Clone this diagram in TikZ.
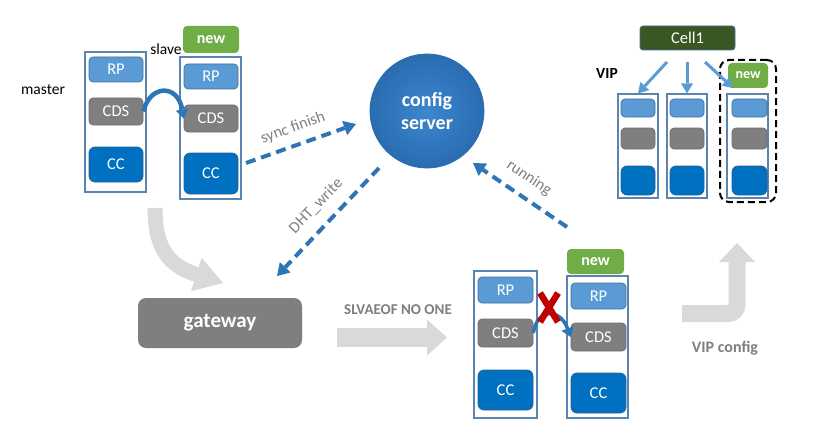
\documentclass[tikz,border=0pt]{standalone}
\usepackage{fontspec}
\setmainfont{Carlito}
\usetikzlibrary{arrows.meta}
\definecolor{rpc}{HTML}{5B9BD5}
\definecolor{rpd}{HTML}{41719C}
\definecolor{cdsc}{HTML}{7F7F7F}
\definecolor{cdsd}{HTML}{6F6F6F}
\definecolor{ccc}{HTML}{0070C0}
\definecolor{ccd}{HTML}{215F9A}
\definecolor{boxc}{HTML}{5B84B1}
\definecolor{newc}{HTML}{70AD47}
\definecolor{dblue}{HTML}{2E75B6}
\definecolor{cellc}{HTML}{385723}
\definecolor{lgray}{HTML}{7F7F7F}
\definecolor{bgray}{HTML}{D9D9D9}
\definecolor{redx}{HTML}{C00000}
\definecolor{cfgin}{HTML}{3C87CF}
\definecolor{cfgout}{HTML}{2A6CB0}
\tikzset{
  colbox/.style={draw=boxc, line width=1.2pt, fill=white, inner sep=0pt},
  rpbox/.style={fill=rpc, draw=rpd, line width=0.7pt, rounded corners=4pt, inner sep=0pt, text=white, font=\fontsize{16.5}{19}\selectfont},
  cdsbox/.style={fill=cdsc, draw=cdsd, line width=0.7pt, rounded corners=4pt, inner sep=0pt, text=white, font=\fontsize{16.5}{19}\selectfont},
  ccbox/.style={fill=ccc, draw=ccd, line width=0.7pt, rounded corners=6pt, inner sep=0pt, text=white, font=\fontsize{16.5}{19}\selectfont},
  newbox/.style={fill=newc, rounded corners=4pt, inner sep=0pt, text=white, font=\bfseries\fontsize{16}{19}\selectfont},
  dasharrow/.style={draw=dblue, line width=4pt, dash pattern=on 10pt off 6pt, -{Triangle[width=15pt,length=12pt,line width=0pt]}},
  curvearrow/.style={draw=dblue, line width=4.5pt, -{Triangle[width=13pt,length=9pt,line width=0pt]}},
  cellarrow/.style={draw=rpc, line width=3pt, -{Triangle[width=12pt,length=10pt,line width=0pt]}},
  lbl/.style={text=lgray, inner sep=0pt, font=\fontsize{16}{19}\selectfont},
  blbl/.style={text=lgray, inner sep=0pt, font=\bfseries\fontsize{15}{18}\selectfont},
  plain/.style={text=black, inner sep=0pt, font=\fontsize{15.5}{18}\selectfont},
}
\begin{document}
\begin{tikzpicture}[x=1pt,y=-1pt]
\useasboundingbox[fill=white] (0,0) rectangle (818,433);

% ---------- master / slave ----------
\node[plain] (tmaster) at (43,90) {master};
\node[plain] (tslave) at (166,49) {slave};

\node[colbox, minimum width=61pt, minimum height=140pt] (mbox) at (115.5,122) {};
\node[rpbox, minimum width=54pt, minimum height=25pt] (mrp) at (116,69.5) {RP};
\node[cdsbox, minimum width=54pt, minimum height=27pt] (mcds) at (116,111.5) {CDS};
\node[ccbox, minimum width=54pt, minimum height=35pt] (mcc) at (116,164.5) {CC};

\node[colbox, minimum width=61pt, minimum height=142pt] (sbox) at (210.5,128) {};
\node[newbox, minimum width=56pt, minimum height=27pt] (snew) at (211,39.5) {new};
\node[rpbox, minimum width=54pt, minimum height=25pt] (srp) at (211,76.5) {RP};
\node[cdsbox, minimum width=54pt, minimum height=27pt] (scds) at (211,118.5) {CDS};
\node[ccbox, minimum width=54pt, minimum height=41pt] (scc) at (211,173.5) {CC};

\draw[curvearrow] (mcds.east) .. controls (150,84) and (178,84) .. (scds.west);

% ---------- config server ----------
\node[circle, draw=cfgout, line width=0.8pt, inner color=cfgin, outer color=cfgout, minimum size=114pt, inner sep=0pt,
      text=white, align=center, font=\bfseries\fontsize{20}{23}\selectfont] (cfg) at (427,111) {config\\server};

\coordinate (sync0) at (246,163);
\coordinate (sync1) at (356,124);
\draw[dasharrow] (sync0) -- (sync1);
\node[lbl, rotate=20] (tsync) at (293,128) {sync finish};

\coordinate (dht0) at (379,168);
\coordinate (dht1) at (277,276);
\draw[dasharrow] (dht0) -- (dht1);
\node[lbl, rotate=46] (tdht) at (316,206) {DHT\_write};

\coordinate (run0) at (567,227);
\coordinate (run1) at (473,163);
\draw[dasharrow] (run0) -- (run1);
\node[lbl, rotate=-34] (trun) at (529,178) {running};

% ---------- gateway ----------
\coordinate (g0) at (155,208);
\coordinate (g1) at (223,283);
\draw[bgray, line width=15pt, -{Triangle[width=35pt,length=28pt,line width=0pt]}] (g0) .. controls (155,250) and (170,266) .. (g1);

\node[fill=cdsc, rounded corners=8pt, minimum width=164pt, minimum height=50pt, inner sep=0pt,
      text=white, font=\bfseries\fontsize{21}{25}\selectfont] (gw) at (220,323) {gateway};

\coordinate (s0) at (337,337.5);
\coordinate (s1) at (447,337.5);
\draw[bgray, line width=19pt, -{Triangle[width=36pt,length=20pt,line width=0pt]}] (s0) -- (s1);
\node[blbl] (tslv) at (398,310) {SLVAEOF NO ONE};

% ---------- bottom columns ----------
\node[colbox, minimum width=63pt, minimum height=147pt] (b1box) at (505.5,344.5) {};
\node[rpbox, minimum width=55pt, minimum height=26pt] (b1rp) at (505.5,290) {RP};
\node[cdsbox, minimum width=55pt, minimum height=28pt] (b1cds) at (505.5,333) {CDS};
\node[ccbox, minimum width=55pt, minimum height=40pt] (b1cc) at (505.5,390) {CC};

\node[colbox, minimum width=61pt, minimum height=142pt] (b2box) at (597.5,347) {};
\node[newbox, minimum width=57pt, minimum height=25pt] (b2new) at (595.5,261.5) {new};
\node[rpbox, minimum width=55pt, minimum height=26pt] (b2rp) at (598.5,296) {RP};
\node[cdsbox, minimum width=55pt, minimum height=28pt] (b2cds) at (598.5,337) {CDS};
\node[ccbox, minimum width=55pt, minimum height=40pt] (b2cc) at (598.5,393) {CC};

\draw[curvearrow, line width=3.5pt] (b1cds.east) .. controls (537,308) and (560,308) .. (b2cds.west);
\draw[redx, line width=6.5pt] (540,293) -- (558,322);
\draw[redx, line width=6.5pt] (558,293) -- (540,322);

% ---------- VIP config ----------
\coordinate (vc0) at (682,313.5);
\coordinate (vc1) at (737,243);
\draw[bgray, line width=17pt, rounded corners=9pt, -{Triangle[width=36pt,length=19pt,line width=0pt]}] (vc0) -| (vc1);
\node[blbl, font=\bfseries\fontsize{16}{19}\selectfont] (tvip) at (725,348) {VIP config};

% ---------- Cell1 ----------
\node[fill=cellc, draw=rpd, line width=0.8pt, rounded corners=3pt, minimum width=95pt, minimum height=24pt, inner sep=0pt,
      text=white, font=\fontsize{16.5}{19}\selectfont] (cell) at (687.5,38) {Cell1};
\node[plain, font=\bfseries\fontsize{15.5}{18}\selectfont] (tvip2) at (607,73) {VIP};

\node[colbox, minimum width=40pt, minimum height=104pt] (v1) at (638,146) {};
\node[rpbox, minimum width=34pt, minimum height=18pt] (v1a) at (638,108) {};
\node[cdsbox, minimum width=34pt, minimum height=21pt] (v1b) at (638,138.5) {};
\node[ccbox, minimum width=34pt, minimum height=29pt] (v1c) at (638,180.5) {};

\node[colbox, minimum width=40pt, minimum height=104pt] (v2) at (687,146) {};
\node[rpbox, minimum width=34pt, minimum height=18pt] (v2a) at (687,108) {};
\node[cdsbox, minimum width=34pt, minimum height=21pt] (v2b) at (687,138.5) {};
\node[ccbox, minimum width=34pt, minimum height=29pt] (v2c) at (687,180.5) {};

\node[draw=black, line width=2pt, dash pattern=on 7pt off 4pt, rounded corners=9pt, minimum width=56pt, minimum height=142pt, inner sep=0pt] (dbox) at (748,131) {};
\node[colbox, minimum width=41pt, minimum height=104pt] (v3) at (747.5,146) {};
\node[rpbox, minimum width=35pt, minimum height=18pt] (v3a) at (749.5,108) {};
\node[cdsbox, minimum width=35pt, minimum height=21pt] (v3b) at (749.5,138.5) {};
\node[ccbox, minimum width=35pt, minimum height=29pt] (v3c) at (749.5,180.5) {};
\node[newbox, minimum width=40pt, minimum height=25pt, font=\bfseries\fontsize{14}{17}\selectfont] (v3new) at (748,75.5) {new};

\coordinate (ca1) at (667,62);
\coordinate (ca2) at (687,62);
\coordinate (ca3) at (705,62);
\coordinate (ca3e) at (733,88);
\draw[cellarrow] (ca1) -- (v1.north);
\draw[cellarrow] (ca2) -- (v2.north);
\draw[cellarrow] (ca3) -- (ca3e);
\end{tikzpicture}
\end{document}
